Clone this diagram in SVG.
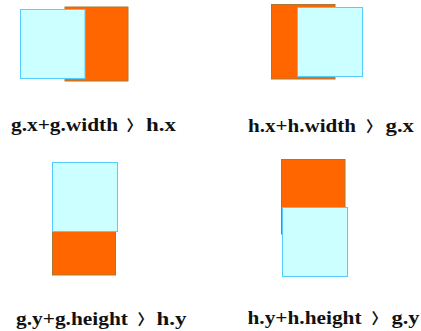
<svg xmlns="http://www.w3.org/2000/svg" width="421" height="331" viewBox="0 0 421 331">
<style>
.h{fill:#FF6600;stroke:#A87A30;stroke-width:1}
.g{fill:#CCFFFF;stroke:#55CCFF;stroke-width:1}
.t{font-family:"Liberation Serif","Noto Sans CJK JP",serif;font-weight:bold;font-size:18px;fill:#111}
.b{font-family:"Noto Sans CJK JP",sans-serif;font-weight:bold;font-size:15px;fill:#111}
</style>
<rect width="421" height="331" fill="#fff"/>
<g id="panel1">
<rect class="h" x="65" y="7" width="63" height="74"/>
<rect class="g" x="20.5" y="9.5" width="64.5" height="69"/>
<text class="t" x="11" y="130.5" textLength="107" lengthAdjust="spacingAndGlyphs">g.x+g.width</text>
<text class="b" x="126.5" y="130.5">〉</text>
<text class="t" x="146" y="130.5" textLength="30" lengthAdjust="spacingAndGlyphs">h.x</text>
</g>
<g id="panel2">
<rect class="h" x="271.5" y="4.5" width="63.5" height="74.5"/>
<rect class="g" x="297.5" y="7.5" width="65" height="69"/>
<text class="t" x="248" y="132" textLength="108" lengthAdjust="spacingAndGlyphs">h.x+h.width</text>
<text class="b" x="366" y="132">〉</text>
<text class="t" x="385.5" y="132" textLength="28.5" lengthAdjust="spacingAndGlyphs">g.x</text>
</g>
<g id="panel3">
<rect class="h" x="52.5" y="200.5" width="63" height="74.5"/>
<rect class="g" x="52.5" y="162.5" width="65" height="69"/>
<text class="t" x="16" y="325" textLength="112" lengthAdjust="spacingAndGlyphs">g.y+g.height</text>
<text class="b" x="137.5" y="325">〉</text>
<text class="t" x="156.5" y="325" textLength="30" lengthAdjust="spacingAndGlyphs">h.y</text>
</g>
<g id="panel4">
<rect class="h" x="281.5" y="159.5" width="63.5" height="74.5"/>
<rect class="g" x="282.5" y="207.5" width="65" height="69"/>
<text class="t" x="247.5" y="324" textLength="114" lengthAdjust="spacingAndGlyphs">h.y+h.height</text>
<text class="b" x="371.5" y="324">〉</text>
<text class="t" x="391.5" y="324" textLength="28" lengthAdjust="spacingAndGlyphs">g.y</text>
</g>
</svg>
